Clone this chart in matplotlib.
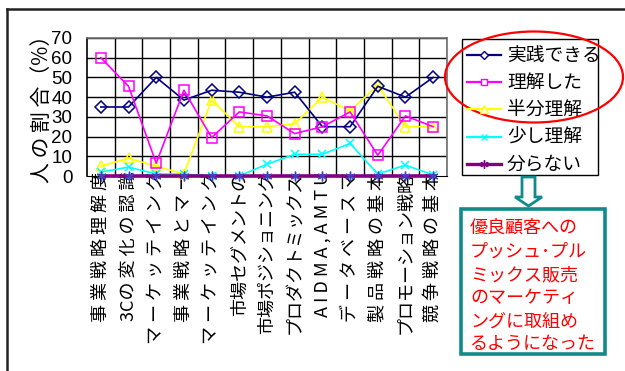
import matplotlib
matplotlib.use("Agg")
import matplotlib.pyplot as plt
from matplotlib.patches import Ellipse, Polygon, Rectangle
from matplotlib.lines import Line2D

plt.rcParams['font.family'] = ['Noto Sans CJK JP', 'DejaVu Sans']

# ---- data -------------------------------------------------------------
categories = [
    "事 業 戦 略 理 解 度",
    "3Cの 変 化 の 認 識",
    "マ ー ケ ッ テ イ ン グ",
    "事 業 戦 略 と マ ー",
    "マ ー ケ ッ テ イ ン グ",
    "市場セグメントの",
    "市場ポジショニング",
    "プロダクトミックス",
    "A I D M A , A M T U",
    "デ ー タ ベ ー ス マ",
    "製 品 戦 略 の 基 本",
    "プロモーション戦略",
    "競 争 戦 略 の 基 本",
]
series_names = ["実践できる", "理解した", "半分理解", "少し理解", "分らない"]
practice   = [35, 35, 50, 38.5, 43.5, 42.5, 40, 42.5, 25, 25, 45.5, 40, 50]
understood = [60, 45.5, 6.5, 43.5, 19.5, 32.5, 30.5, 21.5, 25, 32.5, 10.5, 30.5, 25]
half       = [5, 9, 5, 1, 38.5, 25, 25, 26.5, 40, 33, 46, 25, 25]
little     = [2, 4.5, 1, 1, 0, 0, 6, 11, 11, 16.5, 1, 5.5, 0.5]
unknown    = [0] * 13
yticks = [0, 10, 20, 30, 40, 50, 60, 70]
note_lines = ["優良顧客への", "プッシュ･プル", "ミックス販売",
              "のマーケティ", "ングに取組め", "るようになった"]

# ---- figure -----------------------------------------------------------
W, H = 625, 371
fig = plt.figure(figsize=(W / 100, H / 100), dpi=100)

def fx(px):
    return px / W

def fy(py):
    return 1 - py / H

# outer frame (left and top edges visible)
fig.add_artist(Line2D([fx(7), fx(7)], [fy(9), 0], color="#222222", lw=1.8,
                      transform=fig.transFigure))
fig.add_artist(Line2D([fx(7), 1], [fy(9), fy(9)], color="#222222", lw=1.8,
                      transform=fig.transFigure))

ax_l, ax_r, ax_t, ax_b = 87, 447, 38, 176
ax = fig.add_axes([fx(ax_l), fy(ax_b), fx(ax_r) - fx(ax_l), fy(ax_t) - fy(ax_b)])
n = len(categories)
x = list(range(n))
ax.set_xlim(-0.5, n - 0.5)
ax.set_ylim(0, 70)

# grid
for yv in yticks[1:]:
    ax.axhline(yv, color="black", lw=1.0, zorder=1)
for k in range(n):
    ax.axvline(k + 0.5, color="black", lw=1.0, zorder=1)

for side in ["top", "right"]:
    ax.spines[side].set_color("#707070")
    ax.spines[side].set_linewidth(1.2)
ax.spines["left"].set_color("black")
ax.spines["left"].set_linewidth(1.2)
ax.spines["bottom"].set_color("black")

ms = 7
ax.plot(x, practice, color="#000080", lw=1.2, marker="D", ms=6,
        mfc="none", mec="#000080", mew=1.1, zorder=4, clip_on=False)
ax.plot(x, understood, color="#FF00FF", lw=1.2, marker="s", ms=ms,
        mfc="none", mec="#FF00FF", mew=1.1, zorder=4, clip_on=False)
ax.plot(x, half, color="#FFFF00", lw=1.2, marker="^", ms=ms,
        mfc="none", mec="#FFFF00", mew=1.1, zorder=3, clip_on=False)
ax.plot(x, little, color="#00FFFF", lw=1.2, marker="x", ms=6,
        mec="#00FFFF", mew=1.1, zorder=3, clip_on=False)
ax.plot(x, unknown, color="#800080", lw=2.6, marker=(6, 2, 0), ms=7,
        mec="#4040C0", mew=1.0, zorder=5, clip_on=False)

ax.set_yticks(yticks)
ax.set_yticklabels([str(v) for v in yticks], fontsize=13.5, family="Liberation Sans")
ax.tick_params(axis="y", length=0, pad=10.5)
ax.set_xticks(x)
ax.set_xticklabels(categories, rotation=90, fontsize=13, va="top", ha="center")
ax.tick_params(axis="x", length=0, pad=-3)
ax.set_ylabel("人 の 割 合（%）", fontsize=15)
ax.yaxis.set_label_coords((53 - ax_l) / (ax_r - ax_l), 0.52)

# legend box
fig.add_artist(Rectangle((fx(462), fy(175)), fx(598) - fx(462), fy(39) - fy(175),
                         transform=fig.transFigure, fill=True, fc="white",
                         ec="black", lw=1.0))
styles = [
    dict(color="#000080", marker="D", ms=4, lw=1.6, face="white"),
    dict(color="#FF00FF", marker="s", ms=5, lw=1.6, face="white"),
    dict(color="#FFFF00", marker="^", ms=6, lw=1.6, face="white"),
    dict(color="#00FFFF", marker="x", ms=5, lw=1.6, face="none"),
    dict(color="#800080", marker=(6, 2, 0), ms=6, lw=2.4, face="none"),
]
row_y = [55, 82, 109, 137, 164]
for name, st, ry in zip(series_names, styles, row_y):
    fig.add_artist(Line2D([fx(467), fx(501)], [fy(ry), fy(ry)],
                          transform=fig.transFigure, color=st["color"], lw=st["lw"]))
    fig.add_artist(Line2D([fx(484)], [fy(ry)], transform=fig.transFigure,
                          marker=st["marker"], ms=st["ms"], mfc=st["face"],
                          mec=st["color"], mew=1.0, lw=0))
    fig.text(fx(507), fy(ry), name, fontsize=13.5, va="center", ha="left")

# highlight ellipse
fig.add_artist(Ellipse((fx(534), fy(77)), fx(178), 91 / H,
                       transform=fig.transFigure, fill=False, ec="#FF0000", lw=1.6))

# hollow down arrow
teal = "#138A8A"
arrow_px = [(522, 177), (535, 177), (535, 197), (542, 197), (528.5, 206),
            (515, 197), (522, 197)]
fig.add_artist(Polygon([(fx(a), fy(b)) for a, b in arrow_px], closed=True,
                       transform=fig.transFigure, fill=False, ec=teal, lw=2.0))

# note box
fig.add_artist(Rectangle((fx(461), fy(354)), fx(605) - fx(461), fy(209) - fy(354),
                         transform=fig.transFigure, fill=False, ec=teal, lw=2.6))
line_y = [228, 252, 275, 298, 322, 344]
for t, ly in zip(note_lines, line_y):
    fig.text(fx(470), fy(ly), t, fontsize=13, color="#FF0000", va="center", ha="left")

fig.savefig("out.png", dpi=100)
